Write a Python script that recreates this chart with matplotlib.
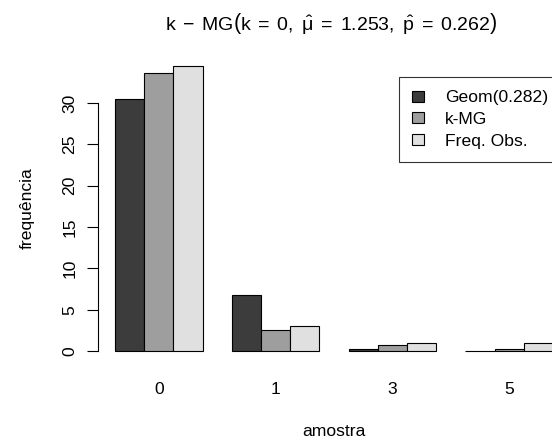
import numpy as np
import matplotlib
matplotlib.use("Agg")
from matplotlib import pyplot as plt
from matplotlib.patches import Patch

plt.rcParams['font.family'] = ['Liberation Sans', 'DejaVu Sans']
plt.rcParams['mathtext.fontset'] = 'custom'
plt.rcParams['mathtext.rm'] = 'Liberation Sans'
plt.rcParams['mathtext.it'] = 'Liberation Sans:italic'

# values
categories = ['0', '1', '3', '5']
geom = [30.5, 6.8, 0.3, 0.05]
kmg = [33.6, 2.5, 0.75, 0.25]
obs = [34.5, 3.0, 1.0, 1.0]
labels = ['Geom(0.282)', 'k-MG', 'Freq. Obs.']
colors = ['#3c3c3c', '#9e9e9e', '#e0e0e0']

fs = 12.6
W, H = 552, 441
fig = plt.figure(figsize=(W / 100, H / 100), dpi=100)

# plot region in pixels (it runs past the right edge, as in the cropped original)
left, right, top, bottom = 97.5, 570.5, 54.3, 362.4
ax = fig.add_axes([left / W, 1 - bottom / H, (right - left) / W, (bottom - top) / H])

series = [geom, kmg, obs]
n = len(categories)
for j, (vals, c) in enumerate(zip(series, colors)):
    x = np.arange(n) * 4 + 1 + j + 0.5
    ax.bar(x, vals, width=1, color=c, edgecolor='black', linewidth=0.8)

xmin, xmax = 1, n * 4
ax.set_xlim(xmin - 0.04 * (xmax - xmin), xmax + 0.04 * (xmax - xmin))
ymax = max(max(s) for s in series)
ax.set_ylim(-0.04 * ymax, 1.04 * ymax)

ax.set_xticks(np.arange(n) * 4 + 2.5)
ax.set_xticklabels(categories)
ax.tick_params(axis='x', length=0, pad=14, labelsize=fs)

ax.set_yticks(range(0, 31, 5))
ax.tick_params(axis='y', length=8, width=0.8, pad=6.5, labelsize=fs)
for t in ax.get_yticklabels():
    t.set_rotation(90)
    t.set_va('center')

for s in ['top', 'right', 'bottom']:
    ax.spines[s].set_visible(False)
ax.spines['left'].set_bounds(0, 30)
ax.spines['left'].set_linewidth(0.8)

fig.text(27 / W, 1 - 208 / H, 'frequência', rotation=90, ha='center', va='center', fontsize=fs)
fig.text(334 / W, 1 - 431 / H, 'amostra', ha='center', va='center', fontsize=fs)
fig.text(331 / W, 1 - 23 / H,
         r'$\mathrm{k\;-\;MG}\left(\mathrm{k\;=\;0,\ \hat{\mu}\;=\;1.253,\ \hat{p}\;=\;0.262}\right)$',
         ha='center', va='center', fontsize=14)

handles = [Patch(facecolor=c, edgecolor='black', linewidth=0.8) for c in colors]
fig.legend(handles, labels, loc='upper left', bbox_to_anchor=(399.3 / W, 1 - 77.3 / H),
           fontsize=fs, frameon=True, fancybox=False, edgecolor='black',
           borderpad=0.74, handlelength=0.65, handleheight=0.6, handletextpad=1.23,
           labelspacing=0.38, borderaxespad=0)
fig.legends[0].get_frame().set_linewidth(0.8)

fig.savefig('out.png', dpi=100)
